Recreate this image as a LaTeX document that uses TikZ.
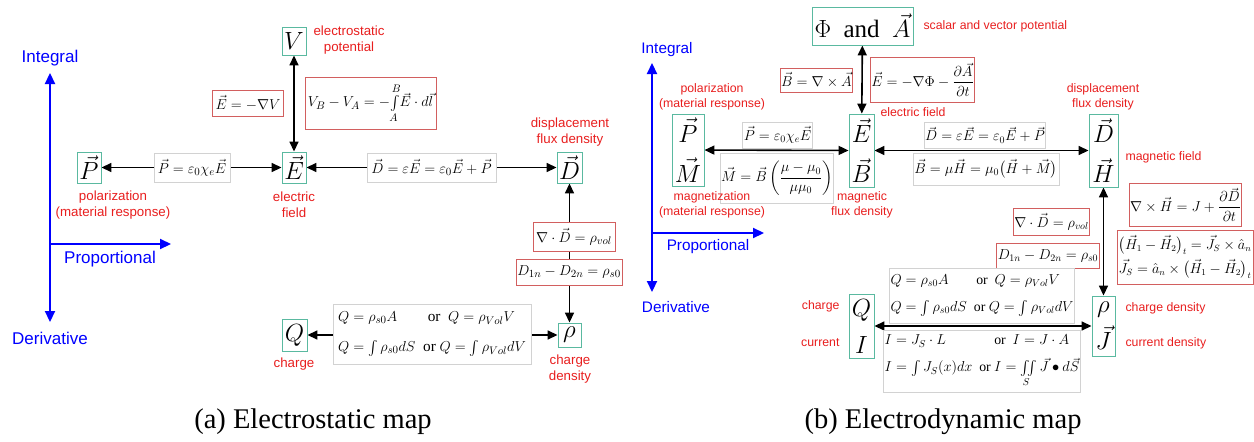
\documentclass[tikz,border=0pt]{standalone}
\usepackage{amsmath}
\usepackage[no-math]{fontspec}
\setmainfont{Liberation Serif}
\newfontfamily\labfont{Liberation Sans}
\usetikzlibrary{arrows.meta}
\pgfdeclarelayer{bg}
\pgfsetlayers{bg,main}
\definecolor{tealc}{RGB}{90,185,160}
\definecolor{greyc}{RGB}{210,210,210}
\definecolor{redc}{RGB}{210,95,95}
\definecolor{labc}{RGB}{232,30,30}
\tikzset{
 qbox/.style={draw=tealc, line width=0.9pt, fill=white, inner sep=0pt, align=center, font=\fontsize{23}{40}\selectfont},
 qboxr/.style={qbox, font=\fontsize{23}{37}\selectfont},
 eqL/.style={fill=white, inner sep=1pt, align=left, font=\fontsize{15.3}{30}\selectfont},
 eqR/.style={fill=white, inner sep=1pt, align=left, font=\fontsize{13.8}{27}\selectfont},
 gb/.style={draw=greyc, line width=0.8pt},
 rb/.style={draw=redc, line width=0.9pt},
 labL/.style={text=labc, align=center, font=\labfont\fontsize{13.3}{16}\selectfont},
 labR/.style={text=labc, align=center, font=\labfont\fontsize{12.3}{15}\selectfont},
 arr/.style={line width=1.6pt, {Triangle[length=10pt,width=9pt]}-{Triangle[length=10pt,width=9pt]}},
 ax/.style={draw=blue, line width=2.2pt},
 axh/.style={ax, -{Triangle[length=11pt,width=10pt]}},
 axv/.style={ax, {Triangle[length=11pt,width=10pt]}-{Triangle[length=11pt,width=10pt]}},
 axlL/.style={text=blue, font=\labfont\fontsize{17}{20}\selectfont},
 axlR/.style={text=blue, font=\labfont\fontsize{15.3}{18}\selectfont},
}
\begin{document}
\begin{tikzpicture}[x=1pt,y=-1pt]
\useasboundingbox (0,0) rectangle (1254,442);
% ================= (a) Electrostatic map =================
\coordinate (aT) at (50,73);
\coordinate (aB) at (50,322);
\coordinate (aO) at (50,244);
\coordinate (aR) at (171,244);
\draw[axv] (aB) -- (aT);
\draw[axh] (aO) -- (aR);
\node[axlL] (aInt) at (50,58) {Integral};
\node[axlL] (aProp) at (110,259) {Proportional};
\node[axlL] (aDer) at (50,338) {Derivative};
% quantity boxes
\node[qbox, minimum width=24pt, minimum height=31pt] (aP) at (89,167.5) {$\vec P$};
\node[qbox, minimum width=24pt, minimum height=31pt] (aE) at (294,167.5) {$\vec E$};
\node[qbox, minimum width=24pt, minimum height=28pt] (aV) at (294,41) {$V$};
\node[qbox, minimum width=25pt, minimum height=31pt] (aD) at (569.5,167.5) {$\vec D$};
\node[qbox, minimum width=23pt, minimum height=24pt] (arho) at (569.5,335) {$\rho$};
\node[qbox, minimum width=25pt, minimum height=32pt] (aQ) at (294.5,335) {$Q$};
% equations
\node[eqL, rb, minimum width=71pt, minimum height=26pt, align=center] (aEV) at (248,103) {$\vec E=-\nabla V$};
\node[eqL, rb, minimum width=131pt, minimum height=52pt, align=center] (aVBA) at (370.5,103) {$V_B-V_A=-\!\int\limits_A^B\!\vec E\cdot d\vec l$};
\node[eqL, gb, minimum width=76pt, minimum height=29pt, align=center] (aPe) at (192,167.5) {$\vec P=\varepsilon_0\chi_e\vec E$};
\node[eqL, gb, minimum width=129pt, minimum height=29pt, align=center] (aDe) at (431.5,167.5) {$\vec D=\varepsilon\vec E=\varepsilon_0\vec E+\vec P$};
\node[eqL, rb, minimum width=82pt, minimum height=29pt, align=center] (adiv) at (574,236.5) {$\nabla\cdot\vec D=\rho_{vol}$};
\node[eqL, rb, minimum width=106pt, minimum height=26pt, align=center] (aD1n) at (569,272) {$D_{1n}-D_{2n}=\rho_{s0}$};
\node[eqL, gb, minimum width=198pt, minimum height=60pt] (aQe) at (432,334) {$Q=\rho_{s0}A\qquad\text{or}\ \ Q=\rho_{Vol}V$\\$Q=\int\rho_{s0}dS\ \ \text{or}\ Q=\int\rho_{Vol}dV$};
% labels
\node[labL] (alV) at (349,40) {electrostatic\\potential};
\node[labL] (alD) at (570,132) {displacement\\flux density};
\node[labL] (alP) at (113,205) {polarization\\(material response)};
\node[labL] (alE) at (294,205) {electric\\field};
\node[labL] (alrho) at (570,369) {charge\\density};
\node[labL] (alQ) at (294,364) {charge};
% connectors
\begin{pgfonlayer}{bg}
\draw[arr] (aV) -- (aE);
\draw[arr] (aP) -- (aE);
\draw[arr] (aE) -- (aD);
\draw[arr] (aD) -- (arho);
\draw[arr] (aQ) -- (arho);
\end{pgfonlayer}
\node[font=\fontsize{28.5}{34}\selectfont] (capa) at (313,422) {(a) Electrostatic map};
% ================= (b) Electrodynamic map =================
\coordinate (bT) at (652,63);
\coordinate (bB) at (652,292);
\coordinate (bO) at (652,233);
\coordinate (bR) at (764,233);
\draw[axv] (bB) -- (bT);
\draw[axh] (bO) -- (bR);
\node[axlR] (bInt) at (667,50) {Integral};
\node[axlR] (bProp) at (708,247) {Proportional};
\node[axlR] (bDer) at (676,307) {Derivative};
% quantity boxes
\node[qbox, minimum width=101pt, minimum height=38pt, font=\fontsize{25}{30}\selectfont] (bPhi) at (862.5,26) {$\Phi\ \ \text{and}\ \ \vec A$};
\node[qbox, minimum width=25pt, minimum height=73pt] (bEB) at (861.5,150.5) {$\vec E$\\$\vec B$};
\node[qbox, minimum width=32pt, minimum height=72pt] (bPM) at (688,150) {$\vec P$\\$\vec M$};
\node[qbox, minimum width=29pt, minimum height=73pt] (bDH) at (1103.5,150.5) {$\vec D$\\$\vec H$};
\node[qboxr, minimum width=23pt, minimum height=60pt] (brhoJ) at (1103.5,326) {$\rho$\\$\vec J$};
\node[qboxr, minimum width=25pt, minimum height=64pt] (bQI) at (861.5,326) {$Q$\\$I$};
% equations
\node[eqR, rb, minimum width=67pt, minimum height=24pt, align=center] (bBA) at (816.5,80) {$\vec B=\nabla\times\vec A$};
\node[eqR, rb, minimum width=99pt, minimum height=45pt, align=center] (bEphi) at (922.5,79.5) {$\vec E=-\nabla\Phi-\dfrac{\partial\vec A}{\partial t}$};
\node[eqR, gb, minimum width=69pt, minimum height=26pt, align=center] (bPe) at (777.5,135) {$\vec P=\varepsilon_0\chi_e\vec E$};
\node[eqR, gb, minimum width=108pt, minimum height=50pt, align=center] (bMe) at (777,178) {$\vec M=\vec B\left(\dfrac{\mu-\mu_0}{\mu\mu_0}\right)$};
\node[eqR, gb, minimum width=118pt, minimum height=26pt, align=center] (bDe) at (985,135) {$\vec D=\varepsilon\vec E=\varepsilon_0\vec E+\vec P$};
\node[eqR, gb, minimum width=146pt, minimum height=32pt, align=center] (bBe) at (986,169) {$\vec B=\mu\vec H=\mu_0\bigl(\vec H+\vec M\bigr)$};
\node[eqR, rb, minimum width=105pt, minimum height=43pt, align=center] (bcurl) at (1185.5,204.5) {$\nabla\times\vec H=J+\dfrac{\partial\vec D}{\partial t}$};
\node[eqR, rb, minimum width=136pt, minimum height=54pt, font=\fontsize{13.5}{24}\selectfont] (bHbc) at (1185,257) {$\bigl(\vec H_1-\vec H_2\bigr)_t=\vec J_S\times\hat a_n$\\$\vec J_S=\hat a_n\times\bigl(\vec H_1-\vec H_2\bigr)_t$};
\node[eqR, rb, minimum width=75pt, minimum height=27pt, align=center] (bdiv) at (1051.5,221.5) {$\nabla\cdot\vec D=\rho_{vol}$};
\node[eqR, rb, minimum width=100pt, minimum height=25pt, align=center] (bD1n) at (1048,255.5) {$D_{1n}-D_{2n}=\rho_{s0}$};
\node[eqR, gb, minimum width=180pt, minimum height=55pt] (bQe) at (982,295.5) {$Q=\rho_{s0}A\qquad\text{or}\ \ Q=\rho_{Vol}V$\\$Q=\int\rho_{s0}dS\ \ \text{or}\ Q=\int\rho_{Vol}dV$};
\node[eqR, gb, minimum width=188pt, minimum height=62pt] (bIe) at (982,361) {$I=J_S\cdot L\qquad\quad\ \ \text{or}\ \ I=J\cdot A$\\$I=\int J_S(x)dx\ \ \text{or}\ I=\iint\limits_S\vec J\bullet d\vec S$};
% labels
\node[labR, anchor=west] (blPhi) at (920,26) {scalar and vector potential};
\node[labR] (blE) at (913,112) {electric field};
\node[labR] (blP) at (712,96.5) {polarization\\(material response)};
\node[labR] (blM) at (712,204.5) {magnetization\\(material response)};
\node[labR] (blB) at (862,204.5) {magnetic\\flux density};
\node[labR] (blD) at (1103,96.5) {displacement\\flux density};
\node[labR, anchor=west] (blH) at (1122,157) {magnetic field};
\node[labR, anchor=west] (blrho) at (1122,308) {charge density};
\node[labR, anchor=west] (blJ) at (1122,343) {current density};
\node[labR, anchor=east] (blQ) at (843,306) {charge};
\node[labR, anchor=east] (blI) at (843,343) {current};
% connectors
\begin{pgfonlayer}{bg}
\draw[arr] (bPhi) -- (bEB);
\draw[arr] (bPM) -- (bEB);
\draw[arr] (bEB) -- (bDH);
\draw[arr] (bDH) -- (brhoJ);
\draw[arr] (bQI) -- (brhoJ);
\end{pgfonlayer}
\node[font=\fontsize{28.5}{34}\selectfont] (capb) at (943,422) {(b) Electrodynamic map};
\end{tikzpicture}
\end{document}
